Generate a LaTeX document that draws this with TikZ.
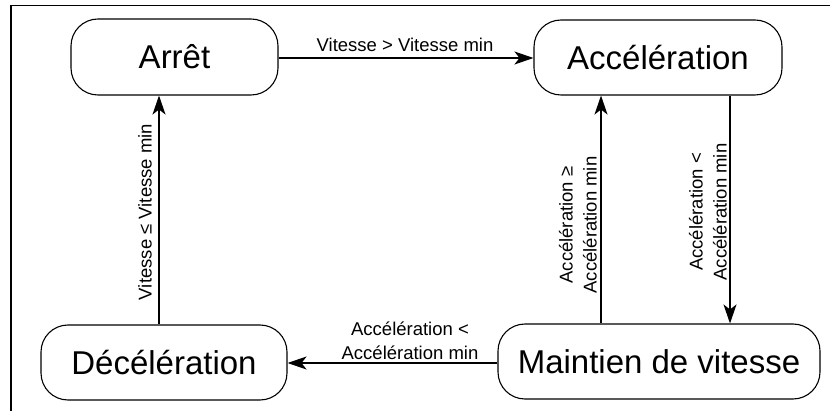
\documentclass[tikz,border=0pt]{standalone}
\usepackage{fontspec}
\setmainfont{Liberation Sans}
\usetikzlibrary{arrows.meta}
\begin{document}
\begin{tikzpicture}[x=1pt,y=-1pt,
  state/.style={draw, line width=1.1pt, rounded corners=27pt, font=\fontsize{33}{36}\selectfont, inner sep=0pt},
  lbl/.style={font=\fontsize{18.5}{24}\selectfont, align=center, inner sep=0pt},
  conn/.style={line width=1.2pt, -{Stealth[length=19pt,width=13pt,inset=5pt]}}]
\useasboundingbox (0,0) rectangle (830,411);
\draw[line width=1.3pt] (11,411) -- (11,5.5) -- (830,5.5);
\node[state, minimum width=207pt, minimum height=76pt] (arret) at (174.5,57) {Arrêt};
\node[state, minimum width=248pt, minimum height=75pt] (accel) at (658,57.5) {Accélération};
\node[state, minimum width=246pt, minimum height=75pt] (decel) at (164,362.5) {Décélération};
\node[state, minimum width=322pt, minimum height=75pt] (maint) at (659,361.5) {Maintien de vitesse};
\coordinate (xl) at (159,0);
\coordinate (xu) at (601,0);
\coordinate (xd) at (730,0);
\coordinate (yt) at (0,58);
\coordinate (yb) at (0,363);
\draw[conn] (arret.east |- yt) -- (accel.west |- yt);
\draw[conn] (xl |- decel.north) -- (xl |- arret.south);
\draw[conn] (xu |- maint.north) -- (xu |- accel.south);
\draw[conn] (xd |- accel.south) -- (xd |- maint.north);
\draw[conn] (maint.west |- yb) -- (decel.east |- yb);
\node[lbl] (l1) at (405,45) {Vitesse > Vitesse min};
\node[lbl, rotate=90] (l2) at (145,212) {Vitesse ≤ Vitesse min};
\node[lbl, rotate=90] (l3) at (578,225) {Accélération ≥\\Accélération min};
\node[lbl, rotate=90] (l4) at (708,212) {Accélération <\\Accélération min};
\node[lbl] (l5) at (410,341) {Accélération <\\Accélération min};
\end{tikzpicture}
\end{document}
